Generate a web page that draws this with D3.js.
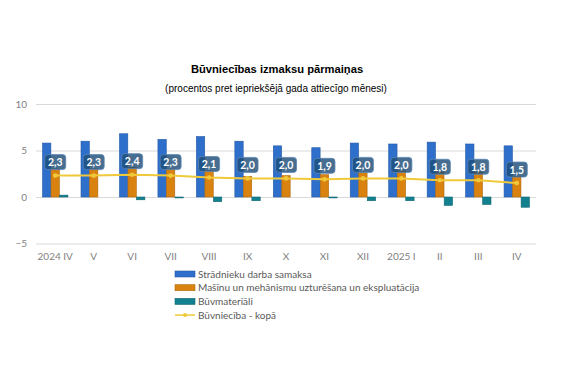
<!DOCTYPE html>
<html lang="lv">
<head>
  <meta charset="UTF-8">
  <title>Būvniecības izmaksu pārmaiņas</title>
  <style>
    body { margin: 0; background: #fff; }
    text { font-family: Lato, "Open Sans", sans-serif; }
    .ttl { font-family: "Liberation Sans", Arial, sans-serif; }
  </style>
</head>
<body>
  <svg id="svg" width="580" height="387"></svg>

  <script src="https://d3js.org/d3.v7.min.js"></script>
  <script>
    const months = ['2024 IV', 'V', 'VI', 'VII', 'VIII', 'IX', 'X', 'XI', 'XII', '2025 I', 'II', 'III', 'IV']
    const labour = [5.8, 6.0, 6.8, 6.2, 6.5, 6.0, 5.5, 5.3, 5.8, 5.7, 5.9, 5.7, 5.5]
    const machinery = [3.0, 3.0, 3.2, 3.0, 2.8, 2.2, 2.3, 2.4, 2.6, 2.8, 2.7, 2.7, 2.2]
    const materials = [0.2, 0.0, -0.3, -0.1, -0.5, -0.4, 0.0, -0.1, -0.4, -0.4, -0.9, -0.8, -1.1]
    const total = [2.3, 2.3, 2.4, 2.3, 2.1, 2.0, 2.0, 1.9, 2.0, 2.0, 1.8, 1.8, 1.5]
    const yTicks = [-5, 0, 5, 10]

    const seriesNames = ['Strādnieku darba samaksa', 'Mašīnu un mehānismu uzturēšana un ekspluatācija', 'Būvmateriāli', 'Būvniecība - kopā']
    const colors = ['#2e6fcc', '#d9820f', '#12808f', '#f0c93a']

    const svg = d3.select('#svg')
    const fmt = v => v.toFixed(1).replace('.', ',')

    const x = d3.scaleBand()
      .domain(months)
      .range([36, 536])

    const inner = d3.scaleBand()
      .domain([0, 1, 2])
      .range([x.bandwidth() * 0.17, x.bandwidth() * 0.83])
      .paddingInner(0.02)

    const y = d3.scaleLinear()
      .domain([-5, 10])
      .range([243.5, 104])

    // title
    svg.append('text')
      .attr('class', 'ttl')
      .attr('x', 277).attr('y', 73)
      .attr('text-anchor', 'middle')
      .style('font-size', '11.2px').style('font-weight', 'bold')
      .attr('fill', '#000')
      .text('Būvniecības izmaksu pārmaiņas')

    svg.append('text')
      .attr('class', 'ttl')
      .attr('x', 276).attr('y', 92)
      .attr('text-anchor', 'middle')
      .style('font-size', '10px')
      .attr('fill', '#000')
      .text('(procentos pret iepriekšējā gada attiecīgo mēnesi)')

    // grid + y labels
    const yAxis = d3.axisLeft(y)
      .tickValues(yTicks)
      .tickSize(-(x.range()[1] - x.range()[0]))
      .tickPadding(9)

    svg.append('g')
      .attr('transform', `translate(${x.range()[0]},0)`)
      .call(yAxis)
      .call(g => g.select('.domain').remove())
      .call(g => g.selectAll('line').attr('stroke', '#d9d9d9'))
      .call(g => g.selectAll('text').attr('fill', '#7f7f7f').style('font-size', '10px'))

    // x labels
    svg.append('g')
      .attr('transform', `translate(0,${y(-5)})`)
      .call(d3.axisBottom(x).tickSize(0).tickPadding(9))
      .call(g => g.select('.domain').remove())
      .call(g => g.selectAll('text').attr('fill', '#7f7f7f').style('font-size', '10px'))

    // bars
    const barSeries = [labour, machinery, materials]
    barSeries.forEach((vals, si) => {
      svg.append('g')
        .selectAll('rect')
        .data(vals)
        .join('rect')
        .attr('x', (d, i) => x(months[i]) + inner(si))
        .attr('width', inner.bandwidth())
        .attr('y', d => y(Math.max(0, d)))
        .attr('height', d => Math.abs(y(d) - y(0)))
        .attr('fill', colors[si])
        .attr('stroke', d3.color(colors[si]).darker(0.6))
        .attr('stroke-width', 0.6)
    })

    // total line
    const cx = (d, i) => x(months[i]) + x.bandwidth() / 2
    svg.append('path')
      .datum(total)
      .attr('d', d3.line().x(cx).y(d => y(d)))
      .attr('fill', 'none')
      .attr('stroke', colors[3])
      .attr('stroke-width', 2)

    svg.append('g')
      .selectAll('circle')
      .data(total)
      .join('circle')
      .attr('cx', cx)
      .attr('cy', d => y(d))
      .attr('r', 2.3)
      .attr('fill', colors[3])

    // value labels
    const labels = svg.append('g')
      .selectAll('g')
      .data(total)
      .join('g')
      .attr('transform', (d, i) => `translate(${cx(d, i)},${y(d) - 13})`)

    labels.append('rect')
      .attr('x', -10.5).attr('y', -8)
      .attr('width', 21).attr('height', 15)
      .attr('rx', 3)
      .attr('fill', '#1f4e79')
      .attr('fill-opacity', 0.82)
      .attr('stroke', '#5b87b5')
      .attr('stroke-width', 0.8)

    labels.append('text')
      .attr('text-anchor', 'middle')
      .attr('y', 3.5)
      .attr('fill', '#fff')
      .style('font-size', '10.5px')
      .style('font-weight', 'bold')
      .text(d => fmt(d))

    // legend
    const legend = svg.append('g')
      .selectAll('g')
      .data(seriesNames)
      .join('g')
      .attr('transform', (d, i) => `translate(175,${274 + i * 13.7})`)

    legend.filter((d, i) => i < 3)
      .append('rect')
      .attr('x', 0).attr('y', -3)
      .attr('width', 20).attr('height', 6)
      .attr('fill', (d, i) => colors[i])
      .attr('stroke', (d, i) => d3.color(colors[i]).darker(0.6))
      .attr('stroke-width', 0.6)

    legend.filter((d, i) => i === 3)
      .call(g => g.append('line')
        .attr('x1', 0).attr('x2', 20)
        .attr('stroke', colors[3]).attr('stroke-width', 1.5))
      .call(g => g.append('circle')
        .attr('cx', 10).attr('r', 2)
        .attr('fill', colors[3]))

    legend.append('text')
      .attr('x', 23).attr('y', 3.5)
      .attr('fill', '#595959')
      .style('font-size', '10px')
      .text(d => d)
  </script>
</body>
</html>
